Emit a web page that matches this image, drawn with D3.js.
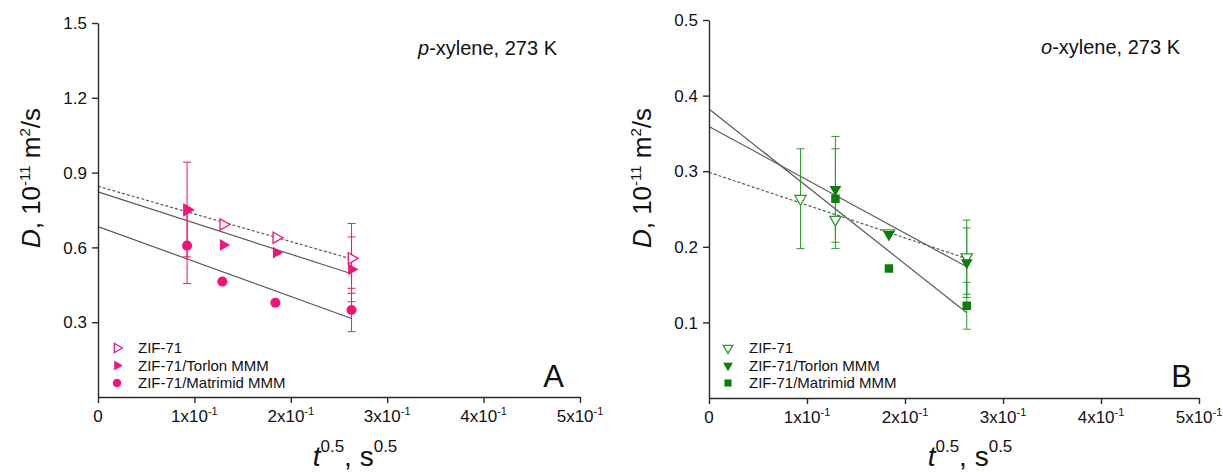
<!DOCTYPE html>
<html>
<head>
<meta charset="utf-8">
<script src="https://cdn.jsdelivr.net/npm/d3@7"></script>
<style>
  html, body { margin: 0; padding: 0; background: #fff; }
  svg { display: block; font-family: "Liberation Sans", Arial, sans-serif; }
</style>
</head>
<body>
<svg id="chart" width="1223" height="472"></svg>
<script>
// ---------------- data ----------------
const seriesNames = ["ZIF-71", "ZIF-71/Torlon MMM", "ZIF-71/Matrimid MMM"];
const xTickValues = [0, 0.1, 0.2, 0.3, 0.4, 0.5];
const xTickLabels = ["0", "1x10|-1", "2x10|-1", "3x10|-1", "4x10|-1", "5x10|-1"];

// Panel A: p-xylene, 273 K
const yTicksA = [0.3, 0.6, 0.9, 1.2, 1.5];
const yTickLabelsA = ["0.3", "0.6", "0.9", "1.2", "1.5"];
const pZifX = [0.0924, 0.130, 0.185, 0.263];
const pZifY = [0.750, 0.692, 0.639, 0.556];
const pZifErr = [0, 0, 0, 0.140];
const pTorlonX = [0.0924, 0.130, 0.185, 0.263];
const pTorlonY = [0.752, 0.610, 0.579, 0.512];
const pTorlonErr = [0.190, 0, 0, 0.130];
const pMatrimidX = [0.0924, 0.129, 0.184, 0.263];
const pMatrimidY = [0.607, 0.463, 0.378, 0.349];
const pMatrimidErr = [0.152, 0, 0, 0.087];

// Panel B: o-xylene, 273 K
const yTicksB = [0.1, 0.2, 0.3, 0.4, 0.5];
const yTickLabelsB = ["0.1", "0.2", "0.3", "0.4", "0.5"];
const oZifX = [0.0934, 0.129, 0.1836, 0.263];
const oZifY = [0.2636, 0.236, 0.218, 0.1863];
const oZifErr = [0.066, 0, 0, 0.049];
const oTorlonX = [0.129, 0.1836, 0.263];
const oTorlonY = [0.276, 0.2163, 0.179];
const oTorlonErr = [0.070, 0, 0.046];
const oMatrimidX = [0.129, 0.1836, 0.263];
const oMatrimidY = [0.2636, 0.1713, 0.122];
const oMatrimidErr = [0.066, 0, 0.031];

// ---------------- drawing ----------------
const svg = d3.select("#chart");
const PINK = "#f4137b";
const GREEN = "#0c7d0c";
const GREEN_LIGHT = "#2a9a2a";
const LINE = "#5a5a5a";
const AXIS = "#2b2b2b";

function zip(xs, ys, es) { return xs.map((x, i) => ({x, y: ys[i], e: es[i]})); }
function fit(pts) {
  const mx = d3.mean(pts, d => d.x), my = d3.mean(pts, d => d.y);
  let sxy = 0, sxx = 0;
  pts.forEach(d => { sxy += (d.x - mx) * (d.y - my); sxx += (d.x - mx) * (d.x - mx); });
  const b = sxy / sxx;
  return {a: my - b * mx, b};
}

function panel(cfg) {
  const x = d3.scaleLinear().domain([0, 0.5]).range([cfg.x0, cfg.x1]);
  const y = d3.scaleLinear().domain([0, cfg.yMax]).range([cfg.y0, cfg.y1]);
  const g = svg.append("g");

  // fit lines
  cfg.series.forEach(s => {
    const f = fit(s.pts);
    const xe = d3.max(s.pts, d => d.x);
    g.append("line")
      .attr("x1", x(0)).attr("y1", y(f.a))
      .attr("x2", x(xe)).attr("y2", y(f.a + f.b * xe))
      .attr("stroke", LINE).attr("stroke-width", 1.2)
      .attr("stroke-dasharray", s.dashed ? "3,2" : null);
  });

  // error bars
  cfg.series.forEach(s => {
    s.pts.filter(d => d.e > 0).forEach(d => {
      const eg = g.append("g").attr("stroke", s.errColor).attr("stroke-width", 1);
      eg.append("line").attr("x1", x(d.x)).attr("x2", x(d.x)).attr("y1", y(d.y - d.e)).attr("y2", y(d.y + d.e));
      [d.y - d.e, d.y + d.e].forEach(v => {
        eg.append("line").attr("x1", x(d.x) - 4).attr("x2", x(d.x) + 4).attr("y1", y(v)).attr("y2", y(v));
      });
    });
  });

  // markers
  cfg.series.forEach(s => {
    g.selectAll(null).data(s.pts).enter().append("path")
      .attr("d", d3.symbol().type(s.sym).size(s.size))
      .attr("transform", d => `translate(${x(d.x)},${y(d.y)}) rotate(${s.rot})`)
      .attr("fill", s.open ? "#fff" : s.color)
      .attr("stroke", s.color).attr("stroke-width", s.open ? 1.3 : 0);
  });

  // x axis
  const ax = g.append("g").attr("transform", `translate(0,${cfg.y0})`);
  ax.call(d3.axisBottom(x).tickValues(d3.range(0.05, 0.5, 0.1)).tickSize(4).tickFormat(""));
  ax.call(d3.axisBottom(x).tickValues(xTickValues).tickSize(6).tickSizeOuter(0).tickFormat(""));
  ax.selectAll("path, line").attr("stroke", AXIS).attr("stroke-width", 1.4);
  xTickValues.forEach((v, i) => {
    const parts = xTickLabels[i].split("|");
    const t = g.append("text").attr("x", x(v)).attr("y", cfg.y0 + 25)
      .attr("text-anchor", "middle").attr("font-size", 17).attr("fill", "#111");
    t.append("tspan").text(parts[0]);
    if (parts[1]) t.append("tspan").attr("dy", -7).attr("font-size", 11).text(parts[1]);
  });

  // y axis
  const ay = g.append("g").attr("transform", `translate(${cfg.x0},0)`);
  ay.call(d3.axisLeft(y).tickValues(d3.range(1, 10, 2).map(k => k * cfg.yMax / 10)).tickSize(4).tickFormat(""));
  ay.call(d3.axisLeft(y).tickValues(cfg.yTicks).tickSize(6).tickSizeOuter(0).tickFormat(""));
  ay.selectAll("path, line").attr("stroke", AXIS).attr("stroke-width", 1.4);
  cfg.yTicks.forEach((v, i) => {
    g.append("text").attr("x", cfg.x0 - 11).attr("y", y(v)).attr("dy", "0.36em")
      .attr("text-anchor", "end").attr("font-size", 17).attr("fill", "#111").text(cfg.yLabels[i]);
  });

  // axis titles
  const yt = g.append("text")
    .attr("transform", `translate(${cfg.x0 - 58},178) rotate(-90)`)
    .attr("text-anchor", "middle").attr("font-size", 26).attr("fill", "#111");
  yt.append("tspan").attr("font-style", "italic").text("D");
  yt.append("tspan").text(", 10");
  yt.append("tspan").attr("dy", -10).attr("font-size", 15).text("-11");
  yt.append("tspan").attr("dy", 10).text(" m");
  yt.append("tspan").attr("dy", -10).attr("font-size", 15).text("2");
  yt.append("tspan").attr("dy", 10).text("/s");

  const xt = g.append("text").attr("x", (cfg.x0 + cfg.x1) / 2 + 16).attr("y", 466)
    .attr("text-anchor", "middle").attr("font-size", 28).attr("fill", "#111");
  xt.append("tspan").attr("font-style", "italic").text("t");
  xt.append("tspan").attr("dy", -14).attr("font-size", 17).text("0.5");
  xt.append("tspan").attr("dy", 14).text(", s");
  xt.append("tspan").attr("dy", -14).attr("font-size", 17).text("0.5");

  // condition label
  const ct = g.append("text").attr("x", cfg.titleX).attr("y", cfg.titleY)
    .attr("text-anchor", "end").attr("font-size", 20).attr("fill", "#111");
  ct.append("tspan").attr("font-style", "italic").text(cfg.titleItalic);
  ct.append("tspan").text(cfg.titleRest);

  // panel letter
  g.append("text").attr("x", cfg.letterX).attr("y", 387).attr("text-anchor", "end")
    .attr("font-size", 31).attr("fill", "#111").text(cfg.letter);

  // legend
  const rows = [348, 365.5, 383];
  cfg.series.forEach((s, i) => {
    g.append("path")
      .attr("d", d3.symbol().type(s.sym).size(s.size * 0.7))
      .attr("transform", `translate(${cfg.x0 + 19},${rows[i]}) rotate(${s.rot})`)
      .attr("fill", s.open ? "#fff" : s.color)
      .attr("stroke", s.color).attr("stroke-width", s.open ? 1.3 : 0);
    g.append("text").attr("x", cfg.x0 + 40).attr("y", rows[i]).attr("dy", "0.36em")
      .attr("font-size", 15).attr("fill", "#111").text(seriesNames[i]);
  });
}

panel({
  x0: 98, x1: 580, y0: 397, y1: 23, yMax: 1.5,
  yTicks: yTicksA, yLabels: yTickLabelsA,
  titleX: 557, titleY: 55, titleItalic: "p", titleRest: "-xylene, 273 K",
  letter: "A", letterX: 564,
  series: [
    {pts: zip(pZifX, pZifY, pZifErr), sym: d3.symbolTriangle, rot: 90, size: 55, open: true, color: PINK, errColor: PINK, dashed: true},
    {pts: zip(pTorlonX, pTorlonY, pTorlonErr), sym: d3.symbolTriangle, rot: 90, size: 60, open: false, color: PINK, errColor: PINK, dashed: false},
    {pts: zip(pMatrimidX, pMatrimidY, pMatrimidErr), sym: d3.symbolCircle, rot: 0, size: 80, open: false, color: PINK, errColor: PINK, dashed: false}
  ]
});

panel({
  x0: 709, x1: 1199, y0: 398, y1: 20, yMax: 0.5,
  yTicks: yTicksB, yLabels: yTickLabelsB,
  titleX: 1180, titleY: 54, titleItalic: "o", titleRest: "-xylene, 273 K",
  letter: "B", letterX: 1192,
  series: [
    {pts: zip(oZifX, oZifY, oZifErr), sym: d3.symbolTriangle, rot: 180, size: 55, open: true, color: GREEN_LIGHT, errColor: GREEN_LIGHT, dashed: true},
    {pts: zip(oTorlonX, oTorlonY, oTorlonErr), sym: d3.symbolTriangle, rot: 180, size: 60, open: false, color: GREEN, errColor: GREEN_LIGHT, dashed: false},
    {pts: zip(oMatrimidX, oMatrimidY, oMatrimidErr), sym: d3.symbolSquare, rot: 0, size: 72, open: false, color: GREEN, errColor: GREEN_LIGHT, dashed: false}
  ]
});
</script>
</body>
</html>
